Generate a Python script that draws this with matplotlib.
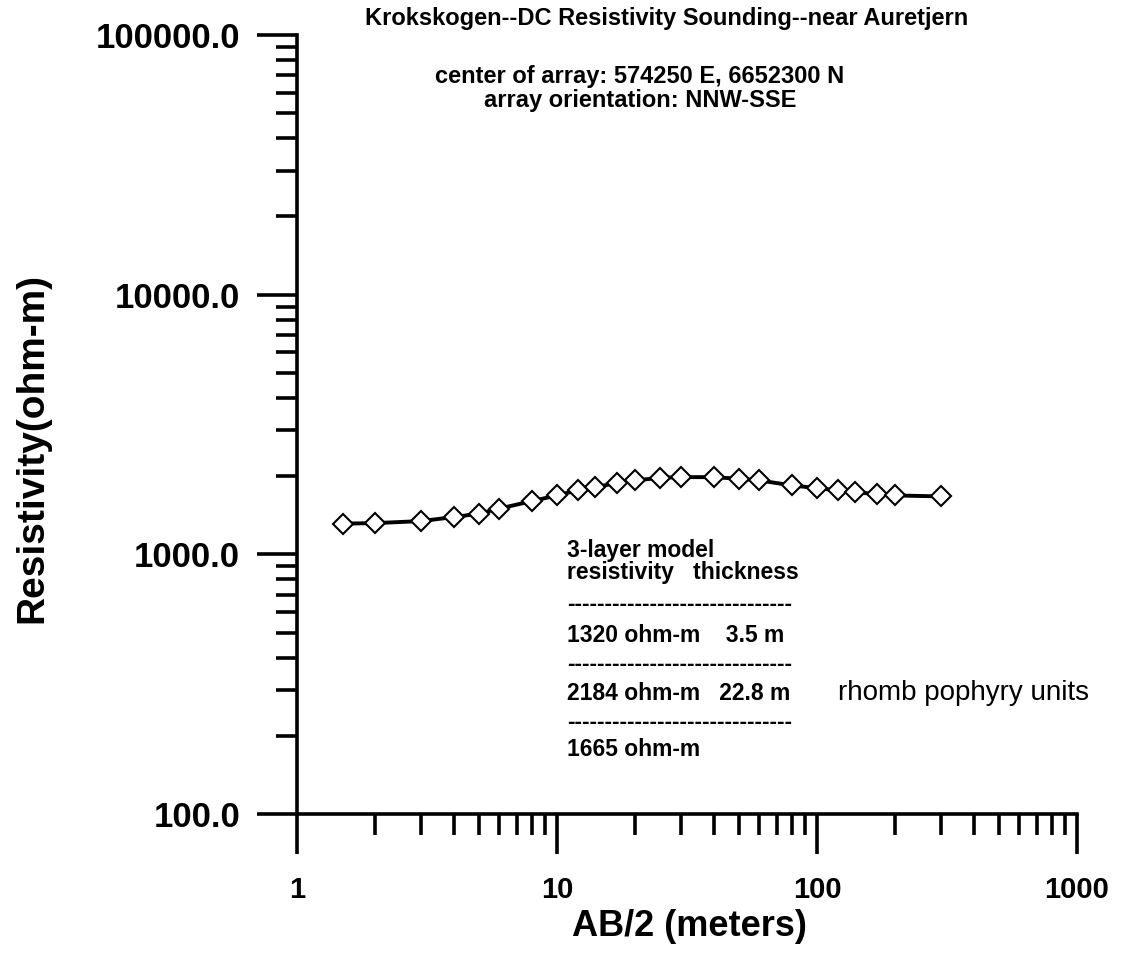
import matplotlib
matplotlib.use("Agg")
import matplotlib.pyplot as plt
from matplotlib.ticker import LogLocator, FixedLocator, FuncFormatter, NullFormatter

plt.rcParams['font.family'] = ['Liberation Sans', 'DejaVu Sans']

# AB/2 spacing (m) and apparent resistivity (ohm-m)
ab2 = [1.5, 2, 3, 4, 5, 6, 8, 10, 12, 14, 17, 20, 25, 30, 40, 50, 60,
       80, 100, 120, 140, 170, 200, 300]
rho = [1313, 1319, 1343, 1391, 1434, 1500, 1603, 1686, 1763, 1815, 1880,
       1926, 1972, 1983, 1983, 1954, 1926, 1843, 1798, 1763, 1738, 1702,
       1686, 1671]

x_ticks = [1, 10, 100, 1000]
y_ticks = [100, 1000, 10000, 100000]

title = "Krokskogen--DC Resistivity Sounding--near Auretjern"
sub1 = "center of array: 574250 E, 6652300 N"
sub2 = "array orientation: NNW-SSE"
table_lines = ["3-layer model", "resistivity   thickness",
               "------------------------------", "1320 ohm-m    3.5 m",
               "------------------------------", "2184 ohm-m   22.8 m",
               "------------------------------", "1665 ohm-m"]
unit_label = "rhomb pophyry units"

W, H = 1123, 958
fig = plt.figure(figsize=(W / 100, H / 100), dpi=100)
ax = fig.add_axes([297 / W, 1 - 814 / H, (1077 - 297) / W, (814 - 35) / H])

ax.plot(ab2, rho, color='black', lw=2.8, marker='D', ms=10,
        mfc='white', mec='black', mew=1.5, zorder=3)

ax.set_xscale('log')
ax.set_yscale('log')
ax.set_xlim(1, 1000)
ax.set_ylim(100, 100000)

for s in ['top', 'right']:
    ax.spines[s].set_visible(False)
for s in ['left', 'bottom']:
    ax.spines[s].set_linewidth(2.6)

ax.xaxis.set_major_locator(FixedLocator(x_ticks))
ax.yaxis.set_major_locator(FixedLocator(y_ticks))
ax.xaxis.set_minor_locator(LogLocator(base=10, subs=range(2, 10)))
ax.yaxis.set_minor_locator(LogLocator(base=10, subs=range(2, 10)))
ax.xaxis.set_minor_formatter(NullFormatter())
ax.yaxis.set_minor_formatter(NullFormatter())
ax.xaxis.set_major_formatter(FuncFormatter(lambda v, p: f"{v:g}"))
ax.yaxis.set_major_formatter(FuncFormatter(lambda v, p: f"{v:.1f}"))

ax.tick_params(which='major', direction='out', length=29, width=2.6)
ax.tick_params(which='minor', direction='out', length=15, width=2.6)
ax.tick_params(axis='y', which='major', pad=12, labelsize=25)
ax.tick_params(axis='x', which='major', pad=16, labelsize=21)
for lab in ax.get_xticklabels() + ax.get_yticklabels():
    lab.set_fontweight('bold')

ax.set_xlabel("AB/2 (meters)", fontsize=26, fontweight='bold', va='center')
ax.xaxis.set_label_coords(689 / W, 1 - 926 / H, transform=fig.transFigure)
ax.set_ylabel("Resistivity(ohm-m)", fontsize=28, fontweight='bold', va='center')
ax.yaxis.set_label_coords(32 / W, 1 - 448 / H, transform=fig.transFigure)

def px(x, y):
    return x / W, 1 - y / H

fig.text(*px(667, 18), title, ha='center', va='center', fontsize=17,
         fontweight='bold')
fig.text(*px(640, 77), sub1, ha='center', va='center', fontsize=17,
         fontweight='bold')
fig.text(*px(640, 100), sub2, ha='center', va='center', fontsize=17,
         fontweight='bold')

ys = [550, 573, 605, 635, 665, 693, 722, 750]
for t, yy in zip(table_lines, ys):
    fig.text(*px(567, yy), t, ha='left', va='center', fontsize=16.5,
             fontweight='bold')
fig.text(*px(838, 693), unit_label, ha='left', va='center', fontsize=20)

fig.savefig("out.png", dpi=100)
